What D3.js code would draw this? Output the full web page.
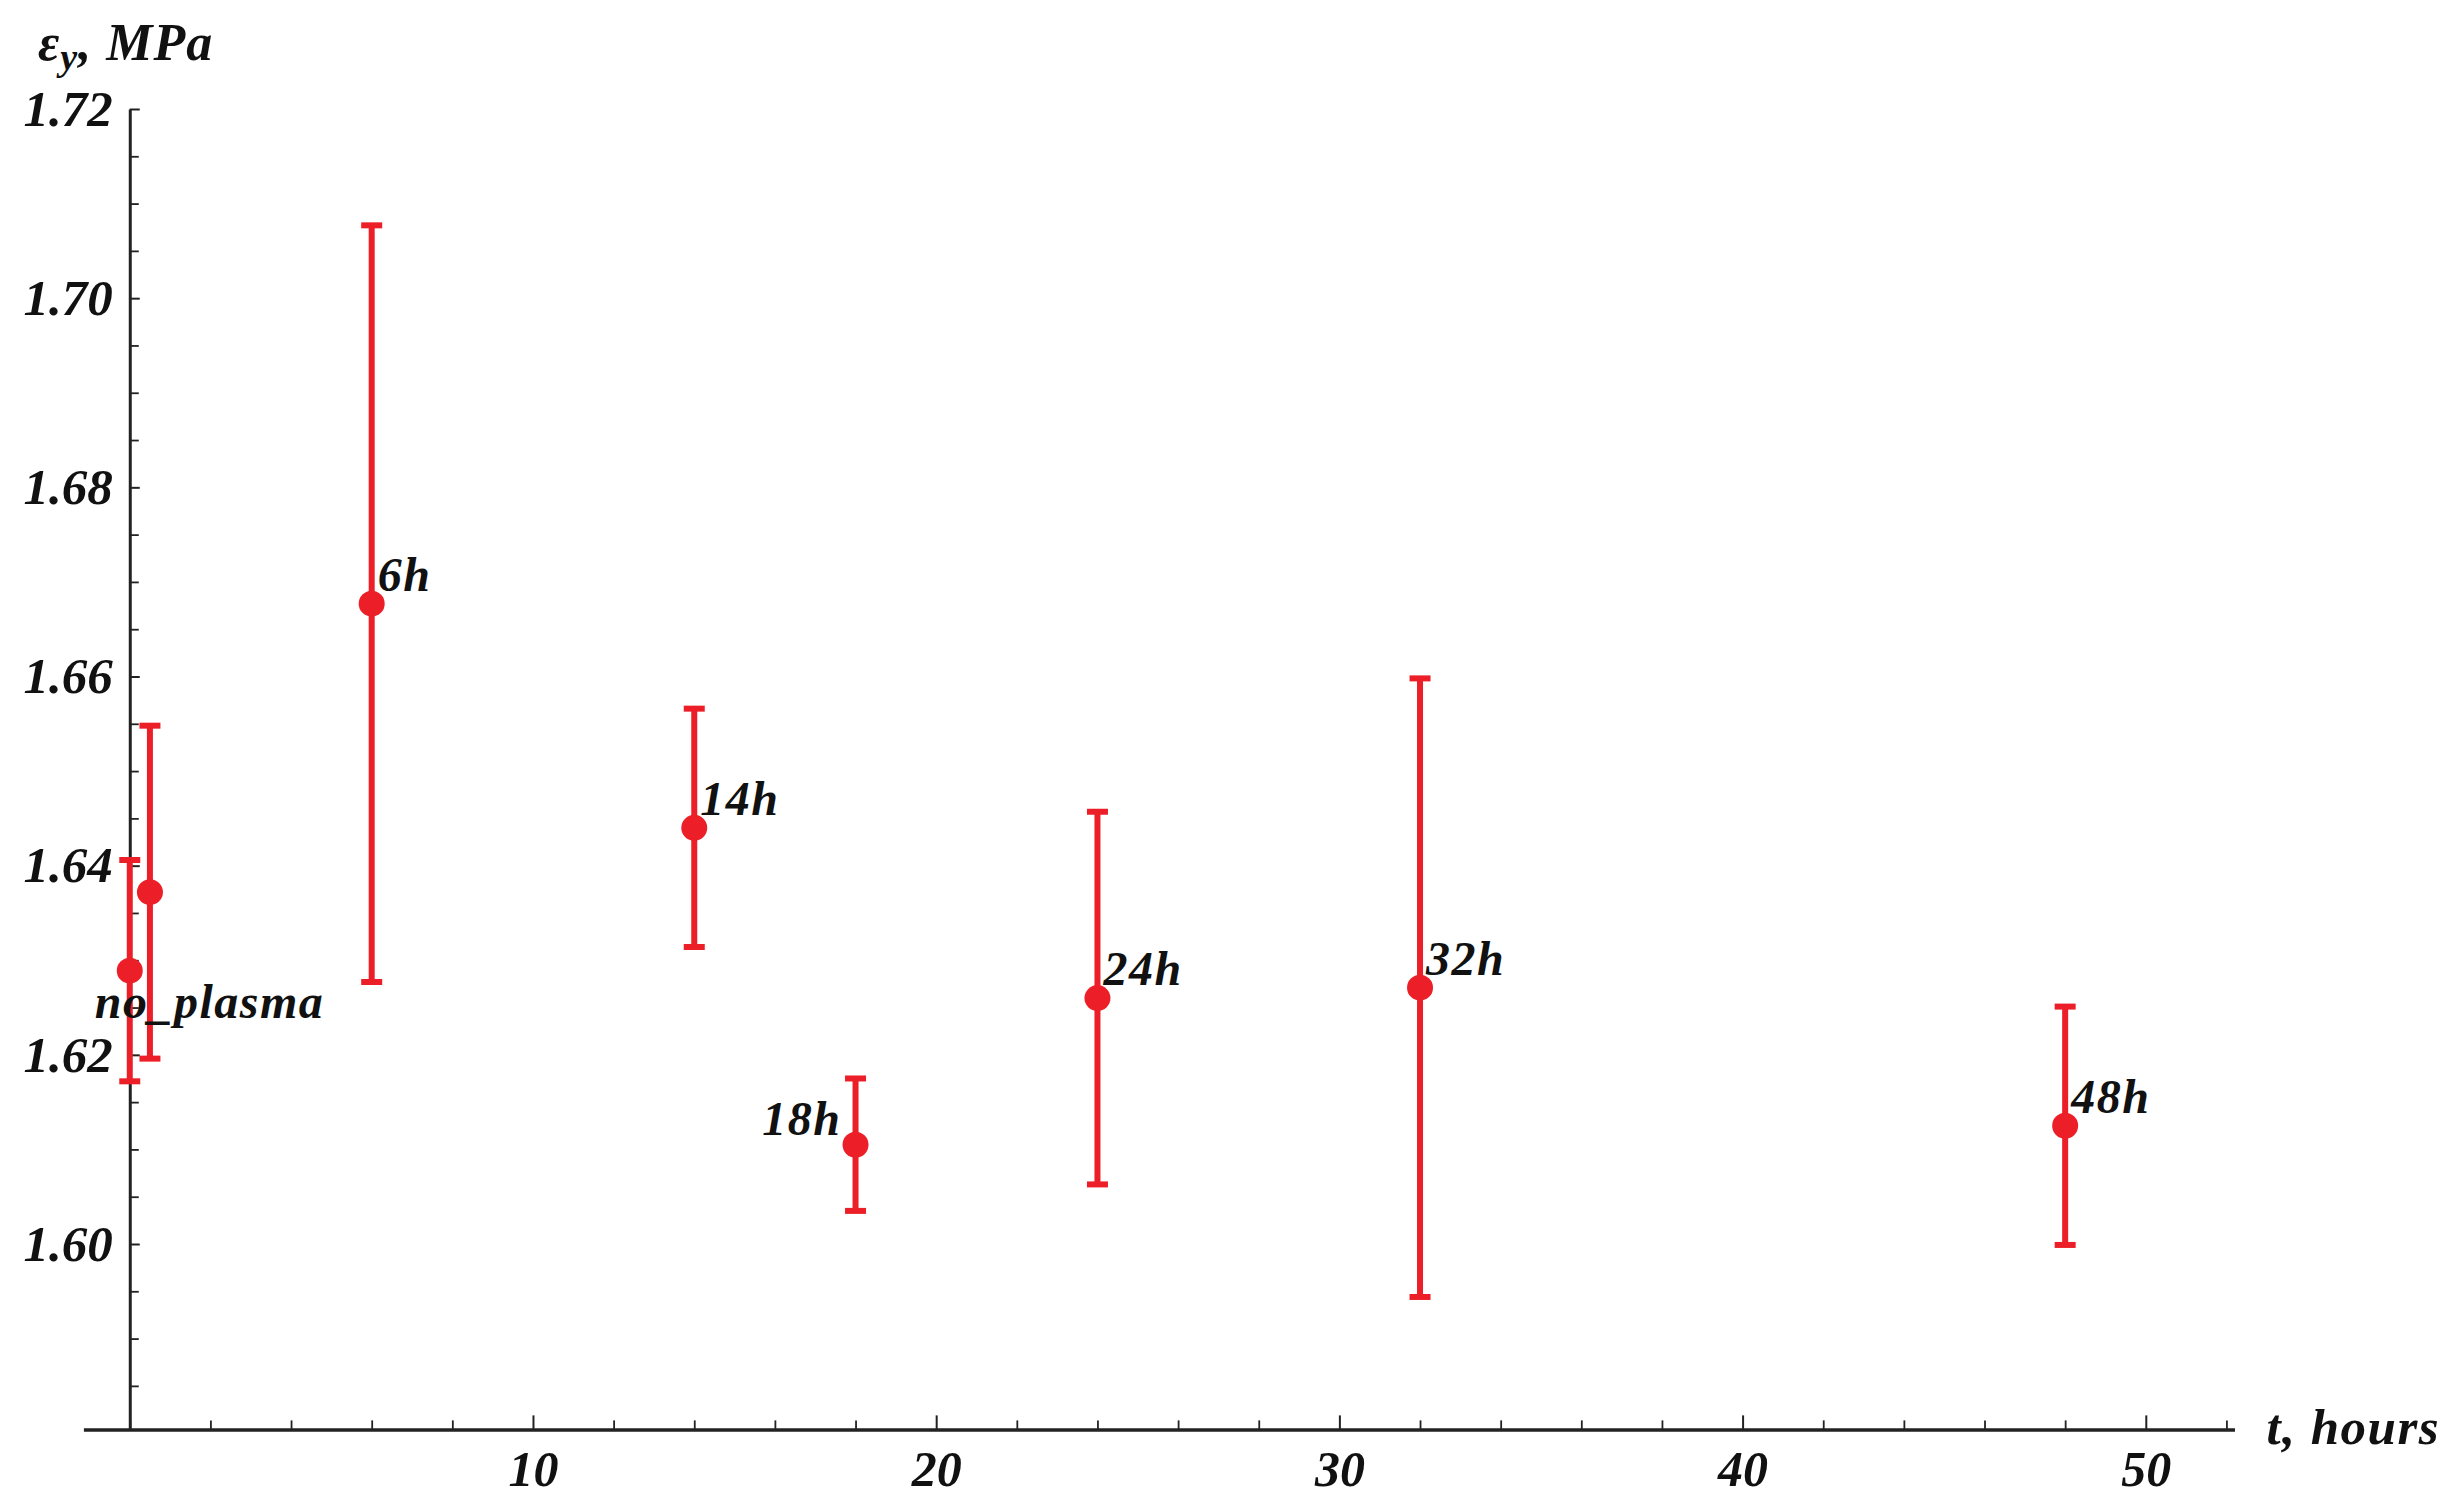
<!DOCTYPE html>
<html>
<head>
<meta charset="utf-8">
<script src="https://cdn.jsdelivr.net/npm/d3@7"></script>
<style>
  html, body { margin: 0; padding: 0; background: #fff; }
  svg { display: block; }
  text { font-family: "Liberation Serif", "DejaVu Serif", serif; font-weight: bold; font-style: italic; fill: #111; }
</style>
</head>
<body>
<svg id="chart" width="2445" height="1508"></svg>
<script>
// ---- data ----
const hours     = [0, 0.5, 6, 14, 18, 24, 32, 48];
const stress    = [1.6289, 1.6372, 1.6677, 1.6440, 1.6105, 1.6260, 1.6271, 1.6125];
const errHalf   = [0.0117, 0.0176, 0.0400, 0.0126, 0.0070, 0.0197, 0.0327, 0.0126];
const pointLabels = ["no_plasma", "", "6h", "14h", "18h", "24h", "32h", "48h"];
const xMajorTicks = [10, 20, 30, 40, 50];
const yMajorTicks = [1.60, 1.62, 1.64, 1.66, 1.68, 1.70, 1.72];
const xMinorStep = 2;
const yMinorStep = 0.005;

// ---- layout ----
const svg = d3.select("#chart");
const red = "#ec1f28";
const axisColor = "#222";

const x = d3.scaleLinear().domain([-1.15, 52.2]).range([83.4, 2234.5]);
const y = d3.scaleLinear().domain([1.60, 1.72]).range([1244, 109]);
const yBottom = 1.5804;
const yAxisX = x(0);
const xAxisY = y(yBottom);

const xMinor = d3.range(0, 52.01, xMinorStep).filter(v => !xMajorTicks.includes(v));
const yMinor = d3.range(1.585, 1.7201, yMinorStep).map(v => +v.toFixed(3))
  .filter(v => !yMajorTicks.some(m => Math.abs(m - v) < 1e-6));

// x axis
const xAxisG = svg.append("g").attr("transform", `translate(0,${xAxisY})`);
xAxisG.call(d3.axisBottom(x).tickValues(xMajorTicks).tickSizeInner(-14).tickSizeOuter(0).tickPadding(21).tickFormat(d3.format("d")));
xAxisG.select(".domain").attr("stroke", axisColor).attr("stroke-width", 3.5);
xAxisG.selectAll(".tick line").attr("stroke", axisColor).attr("stroke-width", 2);
xAxisG.selectAll(".tick text").attr("font-size", 50).attr("font-family", null).attr("fill", "#111");
const xMinorG = svg.append("g").attr("transform", `translate(0,${xAxisY})`);
xMinorG.call(d3.axisBottom(x).tickValues(xMinor).tickSizeInner(-9).tickSizeOuter(0).tickFormat(""));
xMinorG.select(".domain").remove();
xMinorG.selectAll(".tick line").attr("stroke", axisColor).attr("stroke-width", 1.8);

// y axis
const yFull = y.copy().domain([yBottom, 1.72]).range([xAxisY, y(1.72)]);
const yAxisG = svg.append("g").attr("transform", `translate(${yAxisX},0)`);
yAxisG.call(d3.axisLeft(yFull).tickValues(yMajorTicks).tickSizeInner(-10).tickSizeOuter(0).tickPadding(17).tickFormat(d3.format(".2f")));
yAxisG.select(".domain").attr("stroke", axisColor).attr("stroke-width", 3);
yAxisG.selectAll(".tick line").attr("stroke", axisColor).attr("stroke-width", 2);
yAxisG.selectAll(".tick text").attr("font-size", 51).attr("font-family", null).attr("fill", "#111");
const yMinorG = svg.append("g").attr("transform", `translate(${yAxisX},0)`);
yMinorG.call(d3.axisLeft(yFull).tickValues(yMinor).tickSizeInner(-9).tickSizeOuter(0).tickFormat(""));
yMinorG.select(".domain").remove();
yMinorG.selectAll(".tick line").attr("stroke", axisColor).attr("stroke-width", 1.8);

// axis titles
svg.append("text").attr("x", x(52.2) + 32).attr("y", xAxisY + 15)
  .attr("font-size", 51).attr("letter-spacing", 1.5).text("t, hours");
const yt = svg.append("text").attr("x", 38).attr("y", 60).attr("font-size", 52).attr("letter-spacing", 1);
yt.append("tspan").text("ε");
yt.append("tspan").attr("font-size", 38).attr("dy", 10).text("y");
yt.append("tspan").attr("dy", -10).text(", MPa");

// ---- marks ----
const pts = hours.map((h, i) => ({h, v: stress[i], e: errHalf[i], label: pointLabels[i]}));
const capHalf = 10.5;
const barW = 6;
const marks = svg.append("g");
marks.append("g").selectAll("line").data(pts).join("line")
  .attr("x1", d => x(d.h)).attr("x2", d => x(d.h))
  .attr("y1", d => y(d.v - d.e)).attr("y2", d => y(d.v + d.e))
  .attr("stroke", red).attr("stroke-width", barW);
marks.append("g").selectAll("line").data(pts).join("line")
  .attr("x1", d => x(d.h) - capHalf).attr("x2", d => x(d.h) + capHalf)
  .attr("y1", d => y(d.v + d.e)).attr("y2", d => y(d.v + d.e))
  .attr("stroke", red).attr("stroke-width", barW);
marks.append("g").selectAll("line").data(pts).join("line")
  .attr("x1", d => x(d.h) - capHalf).attr("x2", d => x(d.h) + capHalf)
  .attr("y1", d => y(d.v - d.e)).attr("y2", d => y(d.v - d.e))
  .attr("stroke", red).attr("stroke-width", barW);
marks.append("g").selectAll("circle").data(pts).join("circle")
  .attr("cx", d => x(d.h)).attr("cy", d => y(d.v)).attr("r", 13).attr("fill", red);

// point labels
const labelPlacement = {
  "no_plasma": {dx: -35, dy: 47, anchor: "start"},
  "18h": {dx: -14, dy: -10, anchor: "end"}
};
svg.append("g").selectAll("text").data(pts.filter(d => d.label)).join("text")
  .attr("x", d => x(d.h) + (labelPlacement[d.label] ? labelPlacement[d.label].dx : 6))
  .attr("y", d => y(d.v) + (labelPlacement[d.label] ? labelPlacement[d.label].dy : -13))
  .attr("text-anchor", d => labelPlacement[d.label] ? labelPlacement[d.label].anchor : "start")
  .attr("font-size", 48)
  .attr("letter-spacing", 1.5)
  .text(d => d.label);
</script>
</body>
</html>
